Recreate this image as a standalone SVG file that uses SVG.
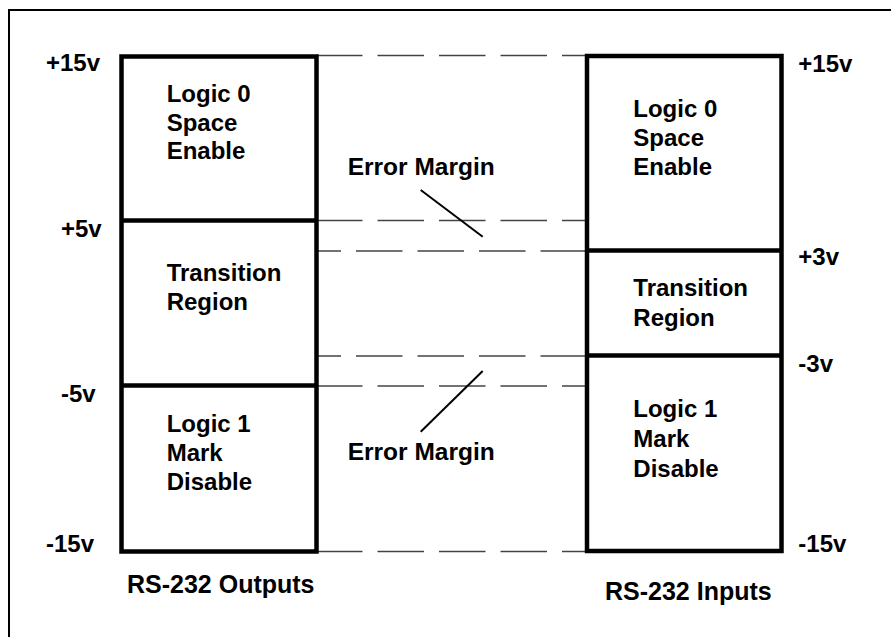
<svg xmlns="http://www.w3.org/2000/svg" width="891" height="637" viewBox="0 0 891 637">
  <style>
    .frame { stroke: #000; stroke-width: 2; fill: none; }
    .box { stroke: #000; stroke-width: 4.5; fill: #fff; }
    .div { stroke: #000; stroke-width: 4.5; }
    .dash { stroke: #444; stroke-width: 1.3; stroke-dasharray: 46.5 15; fill: none; }
    .lead { stroke: #000; stroke-width: 2; }
    text { font-family: "Liberation Sans", Arial, sans-serif; font-weight: bold; font-size: 24px; fill: #000; }
    .caption { font-size: 25px; }
    .note { font-size: 24.5px; }
  </style>
  <rect width="891" height="637" fill="#fff"/>

  <!-- page frame (left and top edges) -->
  <path class="frame" d="M9 637 V10 H891"/>

  <!-- dashed level connectors between the two voltage bars -->
  <g id="connectors">
    <line class="dash" x1="316" y1="55.5" x2="587" y2="55.5"/>
    <line class="dash" x1="316" y1="220.5" x2="587" y2="220.5"/>
    <line class="dash" x1="587" y1="251" x2="316" y2="251"/>
    <line class="dash" x1="587" y1="356" x2="316" y2="356"/>
    <line class="dash" x1="316" y1="386" x2="587" y2="386"/>
    <line class="dash" x1="316" y1="551.5" x2="587" y2="551.5"/>
    <line class="lead" x1="420.7" y1="190" x2="482.7" y2="236.7"/>
    <line class="lead" x1="482.7" y1="371" x2="420.7" y2="431.7"/>
  </g>

  <!-- RS-232 output levels -->
  <g id="outputs">
    <rect class="box" x="121.5" y="56.5" width="195" height="495"/>
    <line class="div" x1="121.5" y1="220.5" x2="316.5" y2="220.5"/>
    <line class="div" x1="121.5" y1="385.5" x2="316.5" y2="385.5"/>
    <text x="166.7" y="101.7">Logic 0</text>
    <text x="166.7" y="130.5">Space</text>
    <text x="166.7" y="159.3">Enable</text>
    <text x="166.7" y="281">Transition</text>
    <text x="166.7" y="310">Region</text>
    <text x="166.7" y="431.7">Logic 1</text>
    <text x="166.7" y="460.7">Mark</text>
    <text x="166.7" y="490">Disable</text>
    <text class="caption" x="127" y="593">RS-232 Outputs</text>
  </g>

  <!-- RS-232 input levels -->
  <g id="inputs">
    <rect class="box" x="587" y="56" width="194.5" height="495"/>
    <line class="div" x1="587" y1="250.5" x2="781.5" y2="250.5"/>
    <line class="div" x1="587" y1="355.5" x2="781.5" y2="355.5"/>
    <text x="633.3" y="116.7">Logic 0</text>
    <text x="633.3" y="146">Space</text>
    <text x="633.3" y="175.3">Enable</text>
    <text x="633.3" y="295.7">Transition</text>
    <text x="633.3" y="326">Region</text>
    <text x="633.3" y="416.7">Logic 1</text>
    <text x="633.3" y="446.7">Mark</text>
    <text x="633.3" y="476.7">Disable</text>
    <text class="caption" x="605" y="600">RS-232 Inputs</text>
  </g>

  <!-- voltage scale, output side -->
  <g id="scale-left">
    <text x="46" y="71">+15v</text>
    <text x="61" y="236.7">+5v</text>
    <text x="61" y="401.7">-5v</text>
    <text x="46" y="551.7">-15v</text>
  </g>

  <!-- voltage scale, input side -->
  <g id="scale-right">
    <text x="798.3" y="71.7">+15v</text>
    <text x="798.3" y="265">+3v</text>
    <text x="798.3" y="371.7">-3v</text>
    <text x="798.3" y="552.3">-15v</text>
  </g>

  <!-- margin annotations -->
  <g id="error-margin-top">
    <text class="note" x="347.7" y="175">Error Margin</text>
  </g>
  <g id="error-margin-bottom">
    <text class="note" x="347.7" y="460">Error Margin</text>
  </g>
</svg>
